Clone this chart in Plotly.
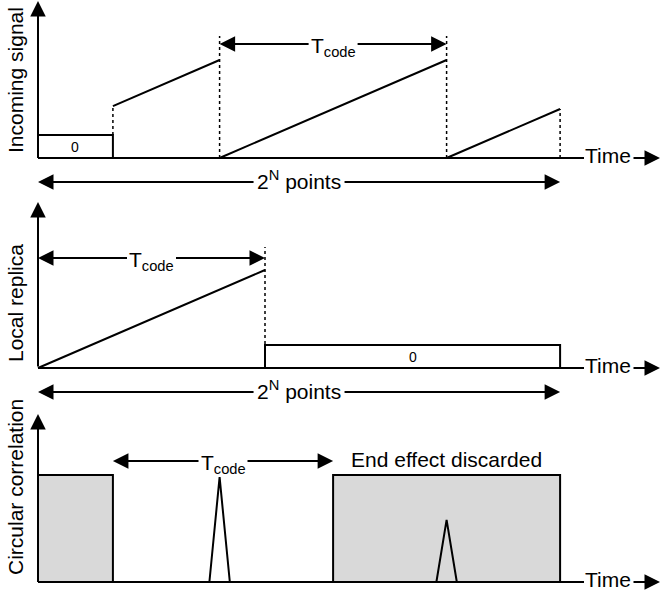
import plotly.graph_objects as go

# ---------------- data (time in units of T_code) ----------------
T_CODE = 1.0
N_WINDOW = 2.3          # length of the 2^N-point window, in T_code units

# Panel 1: incoming signal (amplitude: full ramp = 1)
sig_zero_t = [0, 0, 0.33, 0.33]
sig_zero_v = [0, 0.235, 0.235, 0]
sig_ramp1_t = [0.33, 0.80]
sig_ramp1_v = [0.53, 1.0]
sig_ramp2_t = [0.80, 1.80]
sig_ramp2_v = [0.0, 1.0]
sig_ramp3_t = [1.80, 2.30]
sig_ramp3_v = [0.0, 0.5]
sig_dot_t = [0.33, 0.80, 1.80, 2.30]
sig_dot_lo = [0.235, 0.0, 0.0, 0.0]
sig_dot_hi = [0.53, 1.245, 1.245, 0.5]

# Panel 2: local replica
rep_ramp_t = [0.0, 1.0]
rep_ramp_v = [0.0, 1.0]
rep_zero_t = [1.0, 1.0, 2.3, 2.3]
rep_zero_v = [0, 0.235, 0.235, 0]
rep_dot_t = [1.0]
rep_dot_lo = [0.0]
rep_dot_hi = [1.235]

# Panel 3: circular correlation (amplitude: discarded block = 1)
corr_box1_t = [0, 0, 0.33, 0.33]
corr_box1_v = [0, 1, 1, 0]
corr_box2_t = [1.30, 1.30, 2.30, 2.30]
corr_box2_v = [0, 1, 1, 0]
corr_peak1_t = [0.755, 0.80, 0.845]
corr_peak1_v = [0, 0.98, 0]
corr_peak2_t = [1.755, 1.80, 1.845]
corr_peak2_v = [0, 0.58, 0]

# ---------------- layout geometry ----------------
W, H = 660, 592
X0PX = 38          # pixel of t = 0
PXT = 227.0        # pixels per T_code
def tpx(px):       # pixel -> time
    return (px - X0PX) / PXT

panels = {
    "y":  dict(base=158, scale=98.0),
    "y2": dict(base=368, scale=98.0),
    "y3": dict(base=582, scale=107.0),
}
def yrange(p):
    return [(p["base"] - H) / p["scale"], p["base"] / p["scale"]]
def vpx(ax, px):   # pixel -> value on given axis
    p = panels[ax]
    return (p["base"] - px) / p["scale"]

FONT = "Liberation Sans, Arial, sans-serif"
LW = 2
fig = go.Figure()

def line(t, v, yax, dash="solid", width=LW, fill=None, fillcolor=None):
    fig.add_trace(go.Scatter(
        x=t, y=v, yaxis=yax, mode="lines",
        line=dict(color="black", width=width, dash=dash),
        fill=fill, fillcolor=fillcolor, hoverinfo="skip", showlegend=False))

ann = []
def arrow(x_tail, x_head, y_tail, y_head, yax):
    ann.append(dict(x=x_head, y=y_head, ax=x_tail, ay=y_tail,
                    xref="x", yref=yax, axref="x", ayref=yax,
                    text="", showarrow=True, arrowhead=2, arrowsize=1.55,
                    arrowwidth=2, arrowcolor="black", standoff=0, startstandoff=0))
def text(x, y, s, yax, size=21, angle=0, xref="x"):
    ann.append(dict(x=x, y=y, xref=xref, yref=yax, text=s, showarrow=False,
                    textangle=angle, xanchor="center", yanchor="middle",
                    font=dict(family=FONT, size=size, color="black")))

def dim_arrow(t0, t1, ypx, yax, label, half, dy=0):
    c = (t0 + t1) / 2
    v = vpx(yax, ypx)
    arrow(c - half, t0, v, v, yax)
    arrow(c + half, t1, v, v, yax)
    text(c, vpx(yax, ypx + dy), label, yax)

def axes_frame(yax, tip_px, label, label_px):
    base = panels[yax]["base"]
    arrow(0, 0, 0, vpx(yax, tip_px), yax)
    line([0, tpx(584)], [0, 0], yax)
    text(tpx(608), vpx(yax, base - 3), "Time", yax)
    arrow(tpx(632), tpx(660), 0, 0, yax)
    text(15 / W, vpx(yax, label_px), label, yax, angle=-90, xref="paper")

# ---------- Panel 1 ----------
line(sig_zero_t, sig_zero_v, "y")
line(sig_ramp1_t, sig_ramp1_v, "y")
line(sig_ramp2_t, sig_ramp2_v, "y")
line(sig_ramp3_t, sig_ramp3_v, "y")
for t, lo, hi in zip(sig_dot_t, sig_dot_lo, sig_dot_hi):
    line([t, t], [lo, hi], "y", dash="dot", width=1.5)
text(0.33 / 2, vpx("y", 147), "0", "y", size=14)
axes_frame("y", 1, "Incoming signal", 80)
dim_arrow(sig_ramp2_t[0], sig_ramp2_t[1], 44, "y", "T<sub>code</sub>", tpx(61) - tpx(38), dy=3)
dim_arrow(0, N_WINDOW, 182, "y", "2<sup>N</sup> points", tpx(82) - tpx(38), dy=-2)

# ---------- Panel 2 ----------
line(rep_ramp_t, rep_ramp_v, "y2")
for t, lo, hi in zip(rep_dot_t, rep_dot_lo, rep_dot_hi):
    line([t, t], [lo, hi], "y2", dash="dot", width=1.5)
line(rep_zero_t, rep_zero_v, "y2")
text((rep_zero_t[0] + rep_zero_t[2]) / 2, vpx("y2", 357), "0", "y2", size=14)
axes_frame("y2", 202, "Local replica", 303)
dim_arrow(0, T_CODE, 258, "y2", "T<sub>code</sub>", tpx(61) - tpx(38), dy=3)
dim_arrow(0, N_WINDOW, 392, "y2", "2<sup>N</sup> points", tpx(82) - tpx(38), dy=-2)

# ---------- Panel 3 ----------
line(corr_box1_t, corr_box1_v, "y3", fill="toself", fillcolor="#d9d9d9")
line(corr_box2_t, corr_box2_v, "y3", fill="toself", fillcolor="#d9d9d9")
line(corr_peak1_t, corr_peak1_v, "y3")
line(corr_peak2_t, corr_peak2_v, "y3")
axes_frame("y3", 414, "Circular correlation", 487)
dim_arrow(corr_box1_t[2], corr_box2_t[0], 461, "y3", "T<sub>code</sub>", tpx(61) - tpx(38), dy=3)
text((corr_box2_t[0] + corr_box2_t[2]) / 2, vpx("y3", 459), "End effect discarded", "y3")

hidden = dict(visible=False, showgrid=False, zeroline=False, fixedrange=True)
fig.update_layout(
    width=W, height=H, margin=dict(l=0, r=0, t=0, b=0),
    paper_bgcolor="white", plot_bgcolor="white",
    xaxis=dict(range=[tpx(0), tpx(W)], domain=[0, 1], **hidden),
    yaxis=dict(range=yrange(panels["y"]), domain=[0, 1], **hidden),
    yaxis2=dict(range=yrange(panels["y2"]), overlaying="y", **hidden),
    yaxis3=dict(range=yrange(panels["y3"]), overlaying="y", **hidden),
    annotations=ann, showlegend=False,
    font=dict(family=FONT),
)
fig.write_html("out.html", config={"displayModeBar": False})
